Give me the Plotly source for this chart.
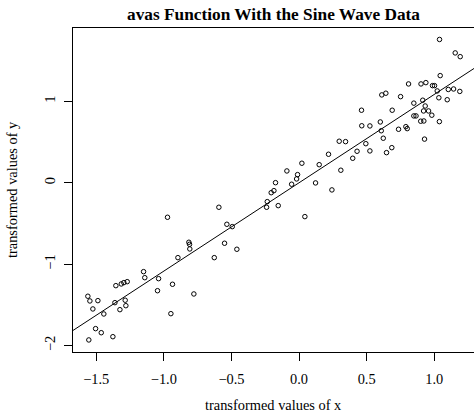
import plotly.graph_objects as go

# transformed values (100 points)
tx = [-0.593, -0.973, -0.534, -0.494, -0.815, -0.810, -0.808, -0.551, -0.460, -0.896,
      -0.627, -1.150, -1.141, -1.039, -1.271, -1.296, -1.315, -1.355, -1.047, -0.936,
      -1.562, -1.547, -1.488, -1.362, -1.286, -1.281, -1.525, -1.325, -1.444, -0.778,
      -0.948, -1.505, -1.463, -1.377, -1.555, 0.297, 0.344, 0.218, 0.021, 0.149,
      0.309, -0.090, -0.011, -0.018, -0.174, -0.055, 0.122, -0.186, -0.206, 0.243,
      -0.235, -0.240, -0.154, 0.043, 1.039, 1.155, 1.192, 1.044, 0.810, 0.902,
      0.938, 0.987, 1.002, 1.022, 1.104, 1.143, 1.189, 0.612, 0.642, 0.751,
      1.034, 1.096, 0.849, 0.915, 0.933, 0.462, 0.689, 0.921, 0.958, 0.982,
      0.849, 0.865, 0.900, 0.923, 1.038, 0.601, 0.464, 0.524, 0.790, 0.800,
      0.736, 0.608, 0.623, 0.928, 0.494, 0.429, 0.524, 0.686, 0.647, 0.397]
ty = [-0.301, -0.424, -0.510, -0.539, -0.731, -0.756, -0.813, -0.743, -0.817, -0.920,
      -0.920, -1.092, -1.166, -1.178, -1.215, -1.227, -1.243, -1.264, -1.326, -1.247,
      -1.394, -1.452, -1.448, -1.473, -1.443, -1.510, -1.550, -1.559, -1.612, -1.366,
      -1.608, -1.792, -1.842, -1.891, -1.931, 0.510, 0.505, 0.350, 0.240, 0.222,
      0.154, 0.145, 0.100, 0.047, 0.001, -0.018, -0.002, -0.097, -0.122, -0.088,
      -0.232, -0.301, -0.281, -0.416, 1.760, 1.595, 1.549, 1.316, 1.214, 1.214,
      1.230, 1.193, 1.193, 1.128, 1.146, 1.152, 1.122, 1.079, 1.100, 1.058,
      1.044, 1.020, 0.978, 1.014, 0.943, 0.891, 0.891, 0.882, 0.882, 0.830,
      0.821, 0.821, 0.756, 0.759, 0.751, 0.747, 0.700, 0.698, 0.689, 0.665,
      0.657, 0.639, 0.547, 0.536, 0.480, 0.387, 0.391, 0.431, 0.370, 0.301]

# fitted straight line (abline)
intercept = 0.0
slope = 1.085

x_ticks = [-1.5, -1.0, -0.5, 0.0, 0.5, 1.0]
x_labels = ["\u22121.5", "\u22121.0", "\u22120.5", "0.0", "0.5", "1.0"]
y_ticks = [-2, -1, 0, 1]
y_labels = ["\u22122", "\u22121", "0", "1"]

x_range = [-1.672, 1.294]
y_range = [-2.079, 1.901]

serif = "Liberation Serif, Times New Roman, serif"

fig = go.Figure()
fig.add_trace(go.Scatter(
    x=tx, y=ty, mode="markers",
    marker=dict(symbol="circle-open", size=4.5, color="black", line=dict(width=1, color="black")),
    showlegend=False,
))
fig.add_trace(go.Scatter(
    x=x_range, y=[intercept + slope * v for v in x_range], mode="lines",
    line=dict(color="black", width=1), showlegend=False,
))

fig.update_layout(
    width=474, height=420,
    margin=dict(l=73, r=0, t=28, b=68),
    paper_bgcolor="white", plot_bgcolor="white",
    font=dict(family=serif, size=14.4, color="black"),
    title=dict(text="<b>avas Function With the Sine Wave Data</b>",
               x=0.5, xref="paper", y=1 - 14 / 420, yanchor="middle",
               font=dict(family=serif, size=17.3, color="black")),
)
fig.update_xaxes(
    range=x_range, tickvals=x_ticks, ticktext=x_labels, automargin=False,
    showgrid=False, zeroline=False,
    showline=True, mirror=True, linecolor="black", linewidth=1,
    ticks="outside", ticklen=8, tickcolor="black", ticklabelstandoff=6,
)
fig.update_yaxes(
    range=y_range, tickvals=y_ticks, ticktext=y_labels, tickangle=-90, automargin=False,
    showgrid=False, zeroline=False,
    showline=True, linecolor="black", linewidth=1,
    ticks="outside", ticklen=8, tickcolor="black", ticklabelstandoff=3,
)

# axis titles placed like R's mtext lines
fig.add_annotation(text="transformed values of x", xref="paper", yref="paper",
                   x=0.5, y=0, yshift=-53, yanchor="middle", showarrow=False)
fig.add_annotation(text="transformed values of y", xref="paper", yref="paper",
                   x=0, y=0.5, xshift=-61, xanchor="center", textangle=-90, showarrow=False)

# drop the page's default body margin so the figure sits at the window's corner
fig.write_html("out.html", config={"displayModeBar": False},
               post_script="document.body.style.margin='0';")
